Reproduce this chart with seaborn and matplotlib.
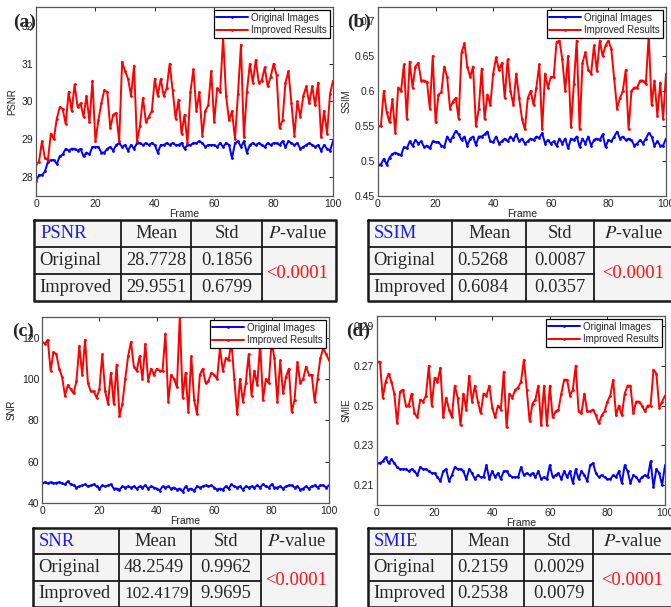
import numpy as np
import pandas as pd
import matplotlib
matplotlib.use("Agg")
import matplotlib.pyplot as plt
import seaborn as sns

frames = list(range(101))

psnr_orig = [27.9, 28.05, 28.05, 28.15, 28.4, 28.45, 28.45, 28.35, 28.55, 28.6,
             28.75, 28.7, 28.75, 28.75, 28.7, 28.75, 28.55, 28.65, 28.6, 28.8,
             28.8, 28.8, 28.65, 28.65, 28.75, 28.8, 28.7, 28.85, 28.9, 28.8,
             28.85, 28.7, 28.85, 28.75, 28.9, 28.9, 28.85, 28.9, 28.85, 28.9,
             28.85, 28.65, 28.85, 28.85, 28.9, 28.85, 28.9, 28.85, 28.85, 28.9,
             28.75, 28.85, 28.85, 28.9, 28.9, 28.95, 28.9, 28.8, 28.85, 28.85,
             28.85, 28.8, 28.9, 28.8, 28.9, 28.85, 28.5, 28.9, 28.95, 28.8,
             28.95, 28.65, 28.85, 28.9, 28.85, 28.9, 28.85, 28.8, 28.9, 28.85,
             28.9, 28.9, 28.85, 28.95, 28.8, 28.95, 28.9, 28.85, 28.9, 28.75,
             28.8, 28.85, 28.9, 28.85, 28.8, 28.85, 28.7, 28.85, 28.75, 28.7, 28.95]
psnr_impr = [28.35, 28.4, 28.95, 28.5, 28.45, 29.15, 29.0, 29.55, 29.85, 29.8,
             29.4, 30.25, 29.75, 30.45, 29.85, 29.95, 29.6, 30.15, 29.45, 30.55,
             28.95, 29.5, 29.95, 30.3, 30.25, 29.3, 29.65, 29.7, 28.95, 31.05,
             30.8, 30.6, 30.15, 30.95, 28.95, 29.35, 30.1, 29.45, 29.6, 29.75,
             30.6, 30.15, 30.6, 30.15, 30.35, 31.0, 30.3, 29.55, 30.05, 29.15,
             29.65, 28.9, 30.25, 30.85, 29.75, 30.25, 29.1, 29.75, 29.9, 30.8,
             29.45, 30.35, 30.25, 31.7, 30.15, 29.5, 29.75, 29.0, 30.2, 31.5,
             29.05, 30.25, 31.0, 30.5, 31.1, 30.5, 30.55, 30.9, 30.4, 30.65,
             31.0, 30.7, 29.3, 29.5, 30.5, 30.8, 29.95, 29.1, 30.0, 29.6,
             30.15, 30.4, 29.95, 30.4, 29.9, 30.5, 29.05, 29.75, 29.15, 30.2, 30.55]

ssim_orig = [0.495, 0.495, 0.503, 0.495, 0.505, 0.51, 0.512, 0.51, 0.508, 0.52,
             0.518, 0.528, 0.522, 0.53, 0.525, 0.528, 0.52, 0.522, 0.518, 0.528,
             0.527, 0.527, 0.522, 0.52, 0.535, 0.528, 0.535, 0.543, 0.538, 0.53,
             0.535, 0.522, 0.532, 0.535, 0.523, 0.535, 0.535, 0.538, 0.542, 0.528,
             0.527, 0.535, 0.525, 0.528, 0.532, 0.528, 0.535, 0.53, 0.538, 0.528,
             0.532, 0.525, 0.528, 0.532, 0.53, 0.535, 0.533, 0.54, 0.525, 0.53,
             0.525, 0.528, 0.522, 0.532, 0.525, 0.532, 0.518, 0.532, 0.53, 0.535,
             0.52, 0.532, 0.525, 0.535, 0.522, 0.53, 0.532, 0.53, 0.538, 0.52,
             0.53, 0.528, 0.535, 0.542, 0.532, 0.535, 0.53, 0.532, 0.53, 0.522,
             0.525, 0.53, 0.525, 0.532, 0.54, 0.535, 0.522, 0.528, 0.522, 0.522, 0.532]
ssim_impr = [0.55, 0.55, 0.60, 0.57, 0.555, 0.588, 0.54, 0.605, 0.60, 0.638,
             0.56, 0.642, 0.605, 0.635, 0.64, 0.615, 0.615, 0.613, 0.575, 0.65,
             0.555, 0.595, 0.598, 0.635, 0.62, 0.575, 0.585, 0.59, 0.56, 0.655,
             0.668, 0.635, 0.62, 0.635, 0.55, 0.575, 0.632, 0.56, 0.595, 0.58,
             0.625, 0.648, 0.63, 0.64, 0.59, 0.645, 0.60, 0.58, 0.625, 0.59,
             0.56, 0.545, 0.59, 0.60, 0.58, 0.605, 0.638, 0.545, 0.625, 0.605,
             0.62, 0.62, 0.67, 0.672, 0.645, 0.60, 0.65, 0.548, 0.61, 0.672,
             0.545, 0.64, 0.655, 0.63, 0.625, 0.665, 0.628, 0.672, 0.65, 0.665,
             0.672, 0.66, 0.618, 0.575, 0.59, 0.60, 0.63, 0.545, 0.60, 0.605,
             0.605, 0.615, 0.615, 0.61, 0.68, 0.58, 0.615, 0.565, 0.612, 0.56, 0.625]

snr_orig = [49.5, 50, 49.5, 50, 49.5, 49.8, 50, 49.5, 49, 50.5,
            49, 48.5, 47.5, 48, 48.5, 49, 48, 48.5, 49, 48,
            47, 48.5, 48, 48.5, 49, 47, 47, 46.5, 48, 47.5,
            48, 47.5, 48, 47, 48, 47.5, 48.5, 47, 48, 47.5,
            47, 46, 48, 47.5, 48, 47, 47.5, 46.5, 47, 45.5,
            48, 46.5, 47, 45.8, 48, 47.5, 48, 48.5, 48, 48.5,
            47.5, 46.5, 47, 46.5, 48, 47, 49, 48, 47.5, 48,
            46.5, 48, 47.5, 48, 47.5, 48.5, 47.5, 49, 48, 47.5,
            49, 47.5, 47.5, 48, 47, 48, 48.5, 48.5, 47.5, 48,
            46.5, 47, 48, 47, 48, 48.5, 47.5, 48.5, 48.5, 47.5, 48.5]
snr_impr = [118, 117, 119, 104, 113, 112, 105, 101, 92, 97,
            95, 93, 99, 116, 102, 119, 98, 94, 94, 91,
            95, 112, 94, 88, 103, 88, 107, 82, 88, 100,
            111, 118, 106, 104, 111, 100, 117, 99, 105, 102,
            105, 104, 104, 122, 89, 102, 100, 96, 130, 91,
            103, 84, 111, 90, 83, 102, 105, 98, 99, 103,
            102, 100, 115, 104, 110, 109, 118, 100, 83, 100,
            89, 98, 112, 92, 104, 97, 117, 90, 100, 98,
            118, 110, 89, 109, 93, 101, 105, 84, 90, 108,
            98, 100, 106, 102, 102, 89, 100, 110, 115, 112, 109]

smie_orig = [0.221, 0.221, 0.222, 0.224, 0.221, 0.223, 0.221, 0.219, 0.218, 0.218,
             0.218, 0.217, 0.218, 0.217, 0.215, 0.219, 0.218, 0.218, 0.217, 0.216,
             0.216, 0.214, 0.212, 0.217, 0.218, 0.212, 0.215, 0.219, 0.218, 0.218,
             0.217, 0.213, 0.218, 0.216, 0.213, 0.215, 0.214, 0.214, 0.22, 0.213,
             0.217, 0.214, 0.216, 0.213, 0.217, 0.217, 0.215, 0.214, 0.214, 0.214,
             0.219, 0.215, 0.216, 0.215, 0.216, 0.214, 0.217, 0.213, 0.214, 0.213,
             0.22, 0.214, 0.215, 0.216, 0.213, 0.217, 0.214, 0.217, 0.211, 0.218,
             0.213, 0.217, 0.215, 0.212, 0.22, 0.221, 0.216, 0.214, 0.215, 0.214,
             0.213, 0.213, 0.215, 0.214, 0.217, 0.211, 0.22, 0.217, 0.211, 0.215,
             0.214, 0.212, 0.214, 0.215, 0.214, 0.222, 0.209, 0.218, 0.216, 0.21, 0.22]
smie_impr = [0.272, 0.272, 0.254, 0.262, 0.266, 0.262, 0.256, 0.241, 0.257, 0.258,
             0.25, 0.25, 0.256, 0.246, 0.244, 0.253, 0.252, 0.255, 0.27, 0.25,
             0.264, 0.262, 0.269, 0.244, 0.254, 0.248, 0.244, 0.26, 0.254, 0.24,
             0.256, 0.248, 0.265, 0.252, 0.26, 0.252, 0.246, 0.256, 0.255, 0.26,
             0.249, 0.244, 0.25, 0.248, 0.267, 0.239, 0.256, 0.254, 0.258, 0.259,
             0.262, 0.273, 0.258, 0.242, 0.251, 0.253, 0.26, 0.24, 0.26, 0.24,
             0.26, 0.244, 0.247, 0.248, 0.256, 0.263, 0.263, 0.255, 0.258, 0.27,
             0.247, 0.246, 0.256, 0.247, 0.247, 0.248, 0.245, 0.241, 0.245, 0.247,
             0.252, 0.255, 0.263, 0.245, 0.25, 0.245, 0.256, 0.26, 0.26, 0.246,
             0.252, 0.252, 0.25, 0.247, 0.25, 0.25, 0.268, 0.266, 0.249, 0.252, 0.255]

series_names = ["Original Images", "Improved Results"]
metric_names = ["PSNR", "SSIM", "SNR", "SMIE"]
panel_letters = ["(a)", "(b)", "(c)", "(d)"]
x_ticks = [0, 20, 40, 60, 80, 100]
y_ticks = [[28, 29, 30, 31, 32],
           [0.45, 0.5, 0.55, 0.6, 0.65, 0.7],
           [40, 60, 80, 100, 120],
           [0.21, 0.23, 0.25, 0.27, 0.29]]
y_ticklabels = [["28", "29", "30", "31", "32"],
                ["0.45", "0.5", "0.55", "0.6", "0.65", "0.7"],
                ["40", "60", "80", "100", "120"],
                ["0.21", "0.23", "0.25", "0.27", "0.29"]]
y_lims = [(27.5, 32.5), (0.45, 0.72), (40, 130), (0.20, 0.295)]

table_header = ["Mean", "Std", "P-value"]
row_names = ["Original", "Improved"]
orig_mean = ["28.7728", "0.5268", "48.2549", "0.2159"]
orig_std = ["0.1856", "0.0087", "0.9962", "0.0029"]
impr_mean = ["29.9551", "0.6084", "102.4179", "0.2538"]
impr_std = ["0.6799", "0.0357", "9.9695", "0.0079"]
p_value = "<0.0001"

sns.set_style("white")
plt.rcParams["font.family"] = ["Liberation Sans", "DejaVu Sans"]

W, H = 671, 607
fig = plt.figure(figsize=(W / 100, H / 100), dpi=100)
fig.patch.set_facecolor("white")
renderer = fig.canvas.get_renderer()


def rect(x0, y0, x1, y1):
    return [x0 / W, 1 - y1 / H, (x1 - x0) / W, (y1 - y0) / H]


def fit_text(t, max_w):
    bb = t.get_window_extent(renderer=renderer)
    if bb.width > max_w:
        t.set_fontsize(t.get_fontsize() * max_w / bb.width)


axes_px = [(36, 7, 333, 196), (378, 7, 666, 196), (42, 317, 329, 503), (377, 316, 665, 505)]
letter_px = [(25, 22), (359, 22), (23, 331), (358, 331)]
ylabel_px = [12, 347, 12, 347]
table_px = [(34, 220, 336, 301), (368, 220, 676, 301), (33, 528, 336, 607), (368, 528, 676, 607)]
table_cols = [[87, 70, 71, 74], [84, 74, 68, 82], [86, 72, 70, 75], [84, 72, 69, 83]]

origs = [psnr_orig, ssim_orig, snr_orig, smie_orig]
imprs = [psnr_impr, ssim_impr, snr_impr, smie_impr]
palette = {series_names[0]: "#0000ff", series_names[1]: "#ff0000"}

for i in range(4):
    ax = fig.add_axes(rect(*axes_px[i]))
    df = pd.DataFrame({
        "Frame": frames + frames,
        "value": origs[i] + imprs[i],
        "series": [series_names[0]] * len(frames) + [series_names[1]] * len(frames),
    })
    sns.lineplot(data=df, x="Frame", y="value", hue="series", hue_order=series_names,
                 palette=palette, marker=".", markersize=4, markeredgewidth=0,
                 linewidth=1.4, estimator=None, ax=ax)
    ax.set_xlim(0, 100)
    ax.set_ylim(*y_lims[i])
    ax.set_xticks(x_ticks)
    ax.set_xticklabels([str(t) for t in x_ticks])
    ax.set_yticks(y_ticks[i])
    ax.set_yticklabels(y_ticklabels[i])
    ax.tick_params(direction="in", length=3, width=0.7, top=True, right=True,
                   labelsize=7.5, colors="#222222", pad=2)
    for s in ax.spines.values():
        s.set_color("#555555")
        s.set_linewidth(0.9)
    ax.set_xlabel("Frame", fontsize=7.5, labelpad=0, color="#222222")
    ax.set_ylabel("")
    fig.text(ylabel_px[i] / W, 1 - ((axes_px[i][1] + axes_px[i][3]) / 2) / H, metric_names[i],
             rotation=90, ha="center", va="center", fontsize=7, color="#222222")
    leg = ax.legend(loc="upper right", fontsize=7, frameon=True, fancybox=False,
                    edgecolor="black", framealpha=1, handlelength=3.2, handletextpad=0.4,
                    borderpad=0.25, labelspacing=0.25, borderaxespad=0.35)
    leg.get_frame().set_linewidth(0.9)
    fig.text(letter_px[i][0] / W, 1 - letter_px[i][1] / H, panel_letters[i],
             fontsize=14, fontweight="bold", family="Liberation Serif",
             ha="center", va="center")

    # table
    x0, y0, x1, y1 = table_px[i]
    tw, th = x1 - x0, y1 - y0
    tax = fig.add_axes(rect(x0, y0, x1, y1))
    tax.set_xlim(0, tw)
    tax.set_ylim(th, 0)
    tax.axis("off")
    tax.add_patch(plt.Rectangle((0, 0), tw, th, facecolor="#f4f4f4", edgecolor="none"))
    cb = np.concatenate([[0], np.cumsum(table_cols[i])])
    rh = th / 3
    lw = 1.3
    lc = "#1a1a1a"
    tax.plot([0, tw, tw, 0, 0], [0, 0, th, th, 0], color=lc, lw=lw * 1.4, clip_on=False)
    for c in cb[1:-1]:
        tax.plot([c, c], [0, th], color=lc, lw=lw)
    tax.plot([0, tw], [rh, rh], color=lc, lw=lw)
    tax.plot([0, cb[3]], [2 * rh, 2 * rh], color=lc, lw=lw)
    fs = 13.3
    serif = "Liberation Serif"
    tax.text(6, rh * 0.5, metric_names[i], color="#1a1aee", fontsize=fs, family=serif,
             ha="left", va="center")
    tax.text((cb[1] + cb[2]) / 2, rh * 0.5, table_header[0], fontsize=fs, family=serif,
             ha="center", va="center")
    tax.text((cb[2] + cb[3]) / 2, rh * 0.5, table_header[1], fontsize=fs, family=serif,
             ha="center", va="center")
    tax.text((cb[3] + cb[4]) / 2 - 2, rh * 0.5, r"$P$" + "-value", fontsize=fs, family=serif,
             ha="center", va="center", math_fontfamily="stix")
    for r, (nm, mv, sv) in enumerate([(row_names[0], orig_mean[i], orig_std[i]),
                                      (row_names[1], impr_mean[i], impr_std[i])]):
        yc = rh * (r + 1.5)
        tax.text(5, yc, nm, fontsize=fs, family=serif, ha="left", va="center")
        tm = tax.text(cb[1] + 5, yc, mv, fontsize=fs, family=serif, ha="left", va="center")
        fit_text(tm, table_cols[i][1] - 7)
        ts = tax.text((cb[2] + cb[3]) / 2, yc, sv, fontsize=fs, family=serif,
                      ha="center", va="center")
        fit_text(ts, table_cols[i][2] - 6)
    tax.text((cb[3] + cb[4]) / 2 - 2, rh * 2, p_value, color="#ff1010", fontsize=fs,
             family=serif, ha="center", va="center")

fig.savefig("out.png", dpi=100, facecolor="white")
